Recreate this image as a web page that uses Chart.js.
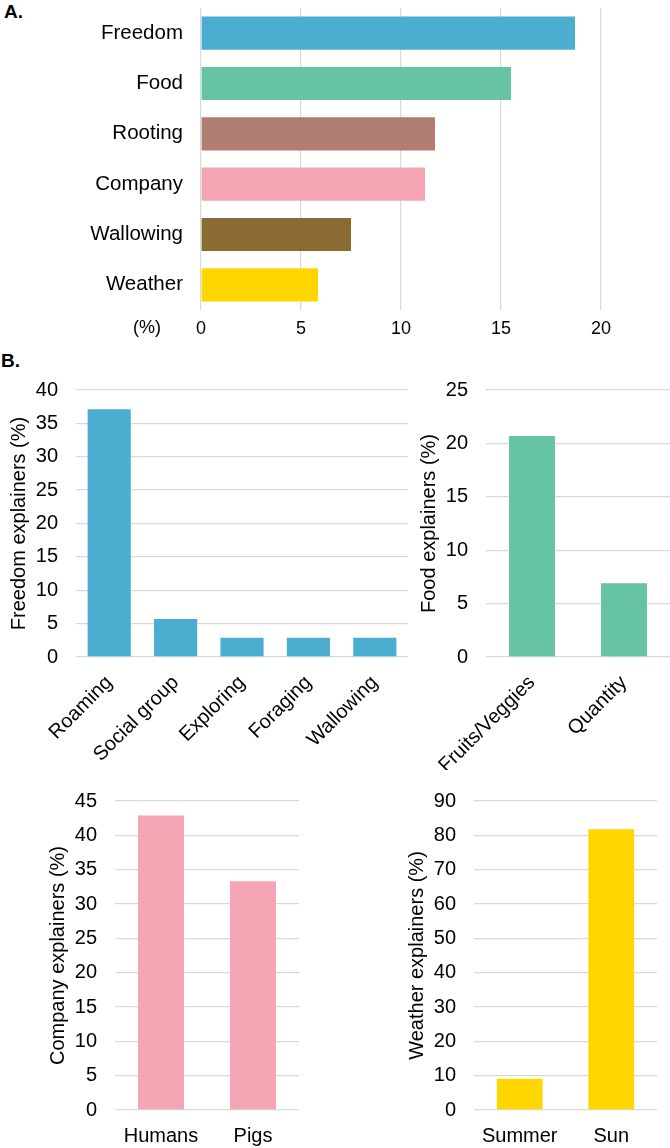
<!DOCTYPE html>
<html lang="en">
<head>
    <meta charset="UTF-8">
    <title>Pig preferences</title>
    <script src="https://cdn.jsdelivr.net/npm/chart.js"></script>
    <style>
        body {
            margin: 0;
            width: 670px;
            height: 1148px;
            position: relative;
            background: #ffffff;
            font-family: "Liberation Sans", Arial, sans-serif;
            overflow: hidden;
        }
        .panel-label {
            position: absolute;
            font-weight: bold;
            font-size: 19px;
            line-height: 19px;
            color: #000;
        }
        canvas { position: absolute; }
    </style>
</head>
<body>

<div class="panel-label" style="left:4px; top:2px;">A.</div>
<div class="panel-label" style="left:1px; top:351px;">B.</div>

<canvas id="chartA" width="670" height="345" style="left:0; top:0;"></canvas>
<canvas id="chartFreedom" width="410" height="400" style="left:0; top:370px;"></canvas>
<canvas id="chartFood" width="260" height="400" style="left:410px; top:370px;"></canvas>
<canvas id="chartCompany" width="262" height="367" style="left:39px; top:781px;"></canvas>
<canvas id="chartWeather" width="261" height="367" style="left:398px; top:781px;"></canvas>

<script>
    // Panel A - reasons
    const reasons = ['Freedom', 'Food', 'Rooting', 'Company', 'Wallowing', 'Weather'];
    const reasonValues = [18.7, 15.5, 11.7, 11.2, 7.5, 5.85];
    const reasonColors = ['#4BAED0', '#66C4A5', '#B07D70', '#F4A6B5', '#8B6B31', '#FFD600'];

    // Panel B - explainers
    const freedomLabels = ['Roaming', 'Social group', 'Exploring', 'Foraging', 'Wallowing'];
    const freedomValues = [37.1, 5.7, 2.9, 2.9, 2.9];
    const foodLabels = ['Fruits/Veggies', 'Quantity'];
    const foodValues = [20.7, 6.9];
    const companyLabels = ['Humans', 'Pigs'];
    const companyValues = [42.9, 33.3];
    const weatherLabels = ['Summer', 'Sun'];
    const weatherValues = [9.1, 81.8];

    const FONT = '"Liberation Sans", Arial, sans-serif';
    const GRID = '#D9D9D9';
    Chart.defaults.font.family = FONT;
    Chart.defaults.color = '#000';
    Chart.defaults.animation = false;

    // keep chart areas where we put them (no automatic label padding)
    function fixY(width) {
        return s => { s.width = width; s.paddingTop = 0; s.paddingBottom = 0; };
    }
    function fixX(height) {
        return s => { s.height = height; s.paddingLeft = 0; s.paddingRight = 0; };
    }

    // draws the "(%)" unit left of the 0 tick
    const unitLabel = {
        id: 'unitLabel',
        afterDraw(chart) {
            const ctx = chart.ctx;
            ctx.save();
            ctx.font = '18px ' + FONT;
            ctx.fillStyle = '#000';
            ctx.textAlign = 'center';
            ctx.textBaseline = 'middle';
            ctx.fillText('(%)', 147, chart.scales.x.top + 18);
            ctx.restore();
        }
    };

    new Chart(document.getElementById('chartA'), {
        type: 'bar',
        data: {
            labels: reasons,
            datasets: [{
                data: reasonValues,
                backgroundColor: reasonColors,
                categoryPercentage: 1,
                barPercentage: 0.66
            }]
        },
        options: {
            indexAxis: 'y',
            responsive: false,
            layout: { padding: { top: 8, right: 69, left: 0, bottom: 0 } },
            plugins: { legend: { display: false }, tooltip: { enabled: false } },
            scales: {
                x: {
                    min: 0, max: 20,
                    ticks: { stepSize: 5, padding: 8, font: { size: 18 } },
                    grid: { color: GRID, drawTicks: false, lineWidth: 1.2 },
                    border: { display: false },
                    afterFit: fixX(35)
                },
                y: {
                    ticks: { padding: 18, font: { size: 20.5 } },
                    grid: { display: false, drawTicks: false },
                    border: { display: false },
                    afterFit: fixY(201)
                }
            }
        },
        plugins: [unitLabel]
    });

    function explainerChart(id, labels, values, color, title, max, step, opts) {
        return new Chart(document.getElementById(id), {
            type: 'bar',
            data: {
                labels: labels,
                datasets: [{
                    data: values,
                    backgroundColor: color,
                    categoryPercentage: 1,
                    barPercentage: opts.barPct
                }]
            },
            options: {
                responsive: false,
                layout: { padding: { top: 20, right: opts.right, left: 0, bottom: 0 } },
                plugins: { legend: { display: false }, tooltip: { enabled: false } },
                scales: {
                    y: {
                        min: 0, max: max,
                        ticks: { stepSize: step, padding: 18, font: { size: 20 } },
                        grid: { color: GRID, drawTicks: false, lineWidth: 1.3 },
                        border: { display: false },
                        title: {
                            display: true,
                            text: title,
                            font: { size: 20 },
                            padding: { top: 7, bottom: 0 }
                        },
                        afterFit: fixY(opts.yWidth)
                    },
                    x: {
                        ticks: {
                            font: { size: 20 },
                            padding: opts.xPad,
                            minRotation: opts.rot,
                            maxRotation: opts.rot,
                            autoSkip: false
                        },
                        grid: { display: false },
                        border: { display: false },
                        afterFit: fixX(opts.xHeight)
                    }
                }
            }
        });
    }

    explainerChart('chartFreedom', freedomLabels, freedomValues, '#4BAED0',
        'Freedom explainers (%)', 40, 5,
        { barPct: 0.65, right: 2, yWidth: 76, xHeight: 113, xPad: 6, rot: 45 });
    explainerChart('chartFood', foodLabels, foodValues, '#66C4A5',
        'Food explainers (%)', 25, 5,
        { barPct: 0.5, right: 0, yWidth: 76, xHeight: 113, xPad: 6, rot: 45 });
    explainerChart('chartCompany', companyLabels, companyValues, '#F4A6B5',
        'Company explainers (%)', 45, 5,
        { barPct: 0.5, right: 2, yWidth: 76, xHeight: 38, xPad: 6, rot: 0 });
    explainerChart('chartWeather', weatherLabels, weatherValues, '#FFD600',
        'Weather explainers (%)', 90, 10,
        { barPct: 0.5, right: 2, yWidth: 76, xHeight: 38, xPad: 6, rot: 0 });
</script>

</body>
</html>
